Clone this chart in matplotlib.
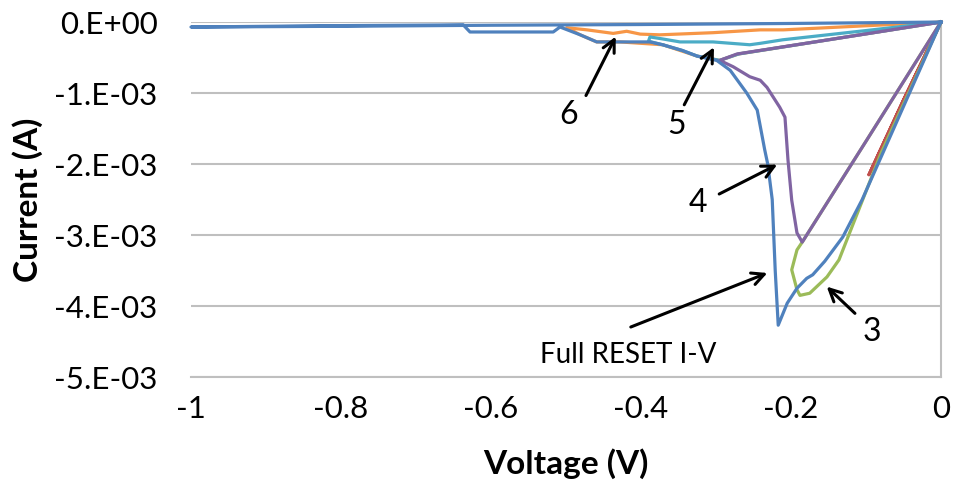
import matplotlib
matplotlib.use("Agg")
import matplotlib.pyplot as plt

plt.rcParams['font.family'] = ['Lato', 'DejaVu Sans']

# I-V sweeps (V in volts, I in mA)
full_v = [0, -0.105, -0.131, -0.155, -0.171, -0.179, -0.192, -0.205, -0.217, -0.221,
          -0.225, -0.231, -0.235, -0.245, -0.259, -0.281, -0.299, -0.325, -0.345, -0.371,
          -0.388, -0.428, -0.459, -0.481, -0.508, -0.517, -0.628, -0.637, -0.8, -1.0,
          -0.8, -0.6, -0.4, -0.2, 0]
full_i = [0, -2.50, -3.03, -3.37, -3.56, -3.61, -3.75, -3.96, -4.27, -3.50,
          -2.50, -2.00, -1.80, -1.24, -1.00, -0.68, -0.54, -0.48, -0.40, -0.32,
          -0.28, -0.28, -0.28, -0.18, -0.07, -0.14, -0.14, -0.04, -0.05, -0.07,
          -0.06, -0.045, -0.035, -0.02, 0]

red_v = [0, -0.05, -0.096, -0.05, 0]
red_i = [0, -1.10, -2.15, -1.10, 0]

s3_v = [0, -0.08, -0.136, -0.152, -0.175, -0.188, -0.192, -0.199, -0.192, -0.185, -0.1, 0]
s3_i = [0, -1.85, -3.35, -3.59, -3.82, -3.85, -3.77, -3.49, -3.21, -3.10, -1.68, 0]

s4_v = [0, -0.1, -0.185, -0.192, -0.199, -0.204, -0.208, -0.215, -0.232, -0.241, -0.255,
        -0.277, -0.295, -0.272, -0.15, 0]
s4_i = [0, -1.68, -3.10, -2.97, -2.51, -1.94, -1.34, -1.20, -0.92, -0.82, -0.77,
        -0.63, -0.54, -0.45, -0.25, 0]

s5_v = [0, -0.27, -0.295, -0.325, -0.345, -0.371, -0.39, -0.388, -0.37, -0.348,
        -0.304, -0.255, -0.241, -0.211, -0.1, 0]
s5_i = [0, -0.45, -0.54, -0.48, -0.40, -0.32, -0.27, -0.21, -0.24, -0.28,
        -0.28, -0.32, -0.30, -0.25, -0.12, 0]

s6_v = [0, -0.27, -0.295, -0.325, -0.371, -0.428, -0.459, -0.481, -0.499, -0.472,
        -0.437, -0.419, -0.401, -0.375, -0.304, -0.241, -0.21, 0]
s6_i = [0, -0.45, -0.54, -0.48, -0.32, -0.28, -0.28, -0.18, -0.08, -0.11,
        -0.16, -0.13, -0.17, -0.18, -0.15, -0.11, -0.11, 0]

ytick_vals = [0, -1, -2, -3, -4, -5]
ytick_labels = ['0.E+00', '-1.E-03', '-2.E-03', '-3.E-03', '-4.E-03', '-5.E-03']
xtick_vals = [-1, -0.8, -0.6, -0.4, -0.2, 0]
xtick_labels = ['-1', '-0.8', '-0.6', '-0.4', '-0.2', '0']

fig = plt.figure(figsize=(9.55, 4.92), dpi=100)
ax = fig.add_axes([0.2, 0.2337, 0.7853, 0.7215])

lw = 2.3
ax.plot(s6_v, s6_i, color='#F79646', lw=lw, zorder=2, clip_on=False)
ax.plot(s5_v, s5_i, color='#4BACC6', lw=lw, zorder=3, clip_on=False)
ax.plot(red_v, red_i, color='#C0504D', lw=lw, zorder=4, clip_on=False)
ax.plot(s3_v, s3_i, color='#9BBB59', lw=lw, zorder=5, clip_on=False)
ax.plot(s4_v, s4_i, color='#8064A2', lw=lw, zorder=6, clip_on=False)
ax.plot(full_v, full_i, color='#4F81BD', lw=lw, zorder=7, clip_on=False)

ax.set_xlim(-1, 0)
ax.set_ylim(-5, 0)
ax.set_yticks(ytick_vals)
ax.set_yticklabels(ytick_labels)
ax.set_xticks(xtick_vals)
ax.set_xticklabels(xtick_labels)
ax.tick_params(axis='both', length=0, labelsize=22.5, colors='black')
ax.tick_params(axis='y', pad=24)
ax.tick_params(axis='x', pad=13)
ax.grid(axis='y', color='#BFBFBF', lw=1.5, zorder=0)
ax.set_axisbelow(True)
for side in ['left', 'top']:
    ax.spines[side].set_visible(False)
ax.spines['right'].set_color('#BFBFBF')
ax.spines['right'].set_linewidth(1.5)
ax.spines['bottom'].set_color('#BFBFBF')
ax.spines['bottom'].set_linewidth(1.5)

ax.set_xlabel('Voltage (V)', fontsize=24, fontweight='bold')
ax.set_ylabel('Current (A)', fontsize=24, fontweight='bold')
ax.xaxis.set_label_coords(0.5, -0.2)
ax.yaxis.set_label_coords(-0.197, 0.5)

arrow = dict(arrowstyle='->', color='black', lw=2.2, mutation_scale=22)
notes = [
    ('6', (-0.432, -0.17), (-0.497, -1.31), (-0.475, -1.07)),
    ('5', (-0.301, -0.32), (-0.352, -1.45), (-0.344, -1.20)),
    ('4', (-0.215, -1.99), (-0.324, -2.55), (-0.299, -2.44)),
    ('3', (-0.155, -3.70), (-0.092, -4.37), (-0.112, -4.13)),
]
for label, head, txt, tail in notes:
    ax.annotate('', xy=head, xytext=tail, arrowprops=arrow, zorder=10)
    ax.text(txt[0], txt[1], label, fontsize=23, ha='center', va='center', zorder=10)

ax.annotate('', xy=(-0.228, -3.52), xytext=(-0.417, -4.31), arrowprops=arrow, zorder=10)
ax.text(-0.417, -4.69, 'Full RESET I-V', fontsize=20, ha='center', va='center', zorder=10)

fig.savefig('out.png', dpi=100)
